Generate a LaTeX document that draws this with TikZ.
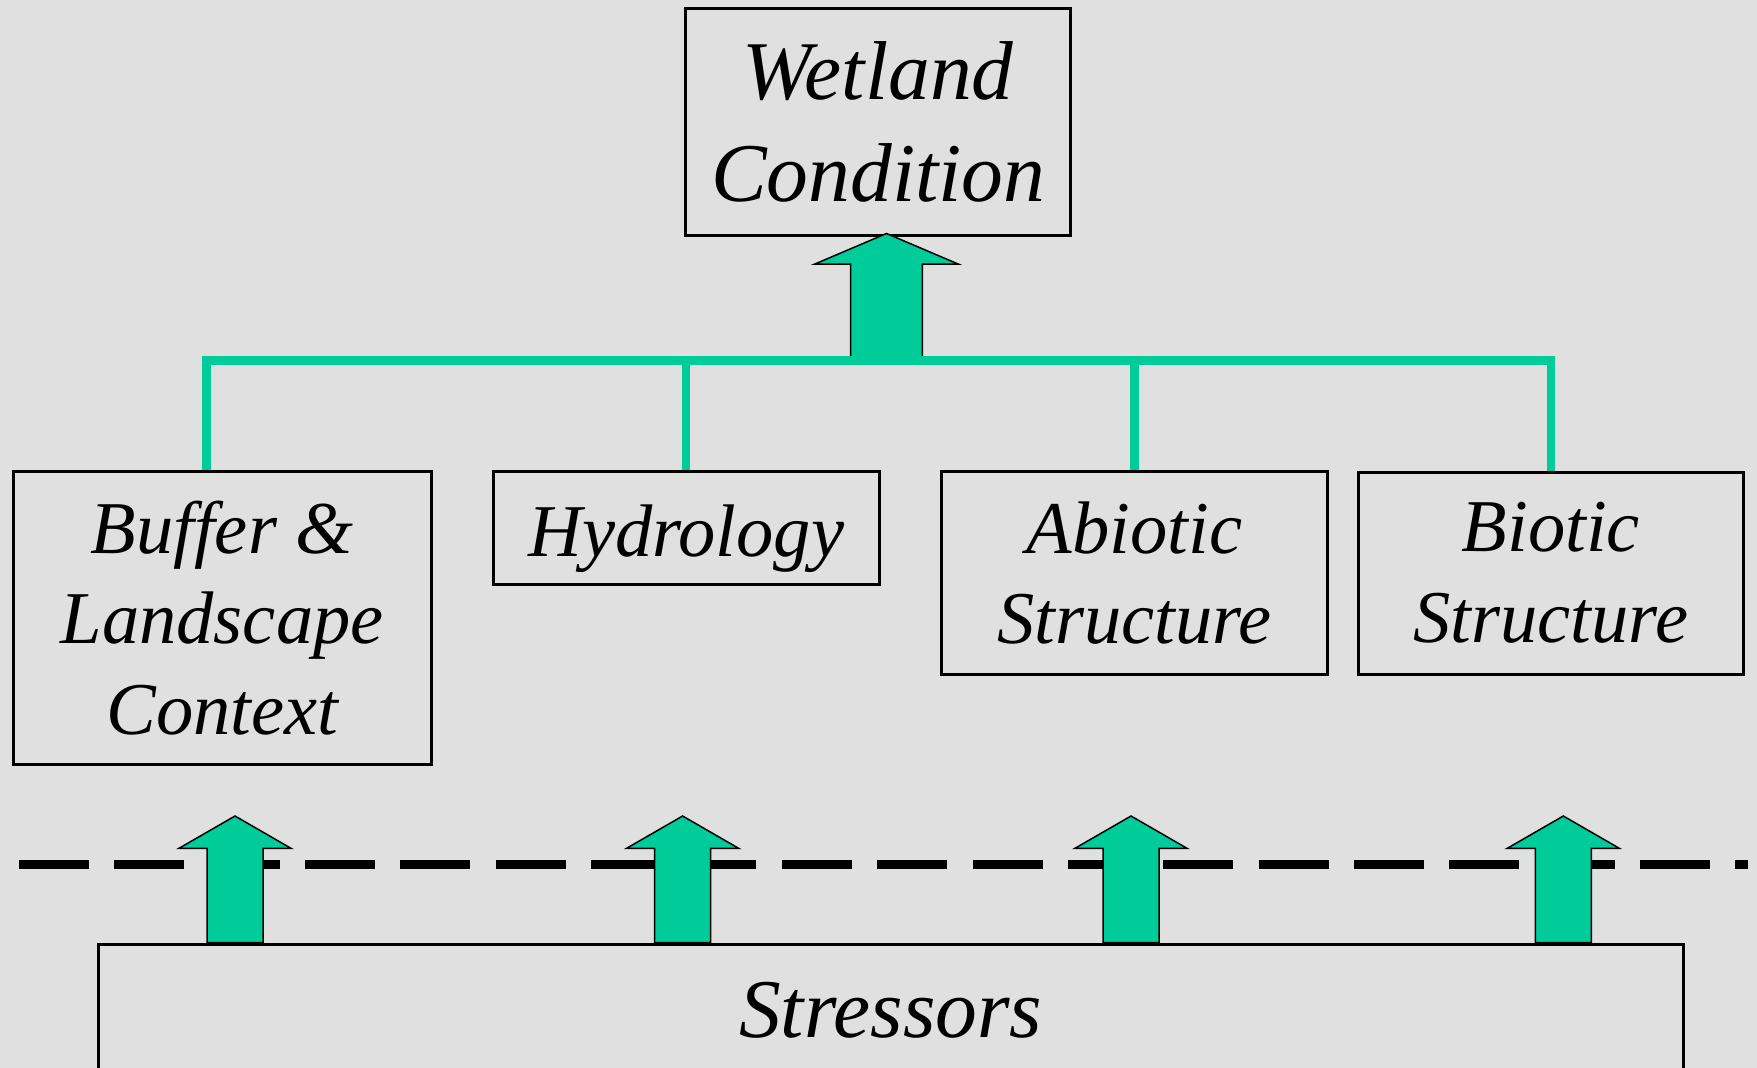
\documentclass[tikz,border=0pt]{standalone}
\usepackage{fontspec}
\setmainfont{Liberation Serif}
\usetikzlibrary{calc}
\definecolor{wgreen}{RGB}{0,204,153}
\definecolor{bggray}{RGB}{224,224,224}
\tikzset{
  box/.style={draw=black, line width=3pt, inner sep=0pt, align=center, text=black},
  bigtxt/.style={font=\itshape\fontsize{83.5}{101.6}\selectfont},
  midtxt/.style={font=\itshape\fontsize{74.5}{90.5}\selectfont},
  bus/.style={draw=wgreen, line width=8.5pt, line join=miter, line cap=butt},
  garrow/.style={fill=wgreen, draw=black, line width=1.5pt, line join=miter},
  divider/.style={draw=black, line width=9pt, line cap=butt, dash pattern=on 70pt off 25.35pt},
}
% #1 tip, #2 base, #3 shaft half width, #4 head half width, #5 head length
\newcommand\upArrow[5]{%
  \draw[garrow] (#1) -- ($(#1)+(#4,#5)$) -- ($(#1)+(#3,#5)$) -- ($(#2)+(#3,0)$)
    -- ($(#2)+(-#3,0)$) -- ($(#1)+(-#3,#5)$) -- ($(#1)+(-#4,#5)$) -- cycle;}
\begin{document}
\begin{tikzpicture}[x=1pt,y=-1pt]
\useasboundingbox (0,0) rectangle (1757,1068);
\clip (0,0) rectangle (1757,1068);
\fill[bggray] (0,0) rectangle (1757,1068);

% boxes
\node[box, bigtxt, minimum width=385pt, minimum height=227pt] (wet) at (878.2,121.8) {Wetland\\Condition};
\node[box, midtxt, minimum width=417.7pt, minimum height=292.6pt] (buf) at (222.2,618) {Buffer \&\\Landscape\\Context};
\node[box, midtxt, text height=57.4pt, text depth=0pt, minimum width=385.7pt, minimum height=112.6pt] (hyd) at (686.2,528) {Hydrology};
\node[box, midtxt, minimum width=385.6pt, minimum height=202.6pt] (abi) at (1134.5,573) {Abiotic\\Structure};
\node[box, midtxt, minimum width=385pt, minimum height=202pt] (bio) at (1550.8,573) {Biotic\\Structure};

% dashed divider
\coordinate (dl) at (19,864);
\coordinate (dr) at (1748,864);
\draw[divider] (dl) -- (dr);

% stressors box (runs off the bottom)
\node[box, bigtxt, text depth=0pt, minimum width=1585pt, minimum height=131pt] (str) at (890.8,1009.5) {Stressors};

% bottom arrows
\coordinate (t1) at (235,816);
\coordinate (t2) at (682.6,816);
\coordinate (t3) at (1131,816);
\coordinate (t4) at (1563.3,816);
\foreach \t in {t1,t2,t3,t4}{
  \coordinate (b\t) at (\t |- str.north);
  \upArrow{\t}{b\t}{28}{56}{32.3}
}

% top arrow and bus
\coordinate (busL) at (206.5,360.5);
\coordinate (busR) at (bio.north |- busL);
\coordinate (topTip) at (886.5,233.5);
\coordinate (topBase) at (topTip |- busL);
\upArrow{topTip}{topBase}{35.8}{71.6}{30.5}
\draw[bus] (busL |- buf.north) -- (busL) -- (busR) -- (bio.north);
\draw[bus] (hyd.north |- busL) -- (hyd.north);
\draw[bus] (abi.north |- busL) -- (abi.north);
\end{tikzpicture}
\end{document}
